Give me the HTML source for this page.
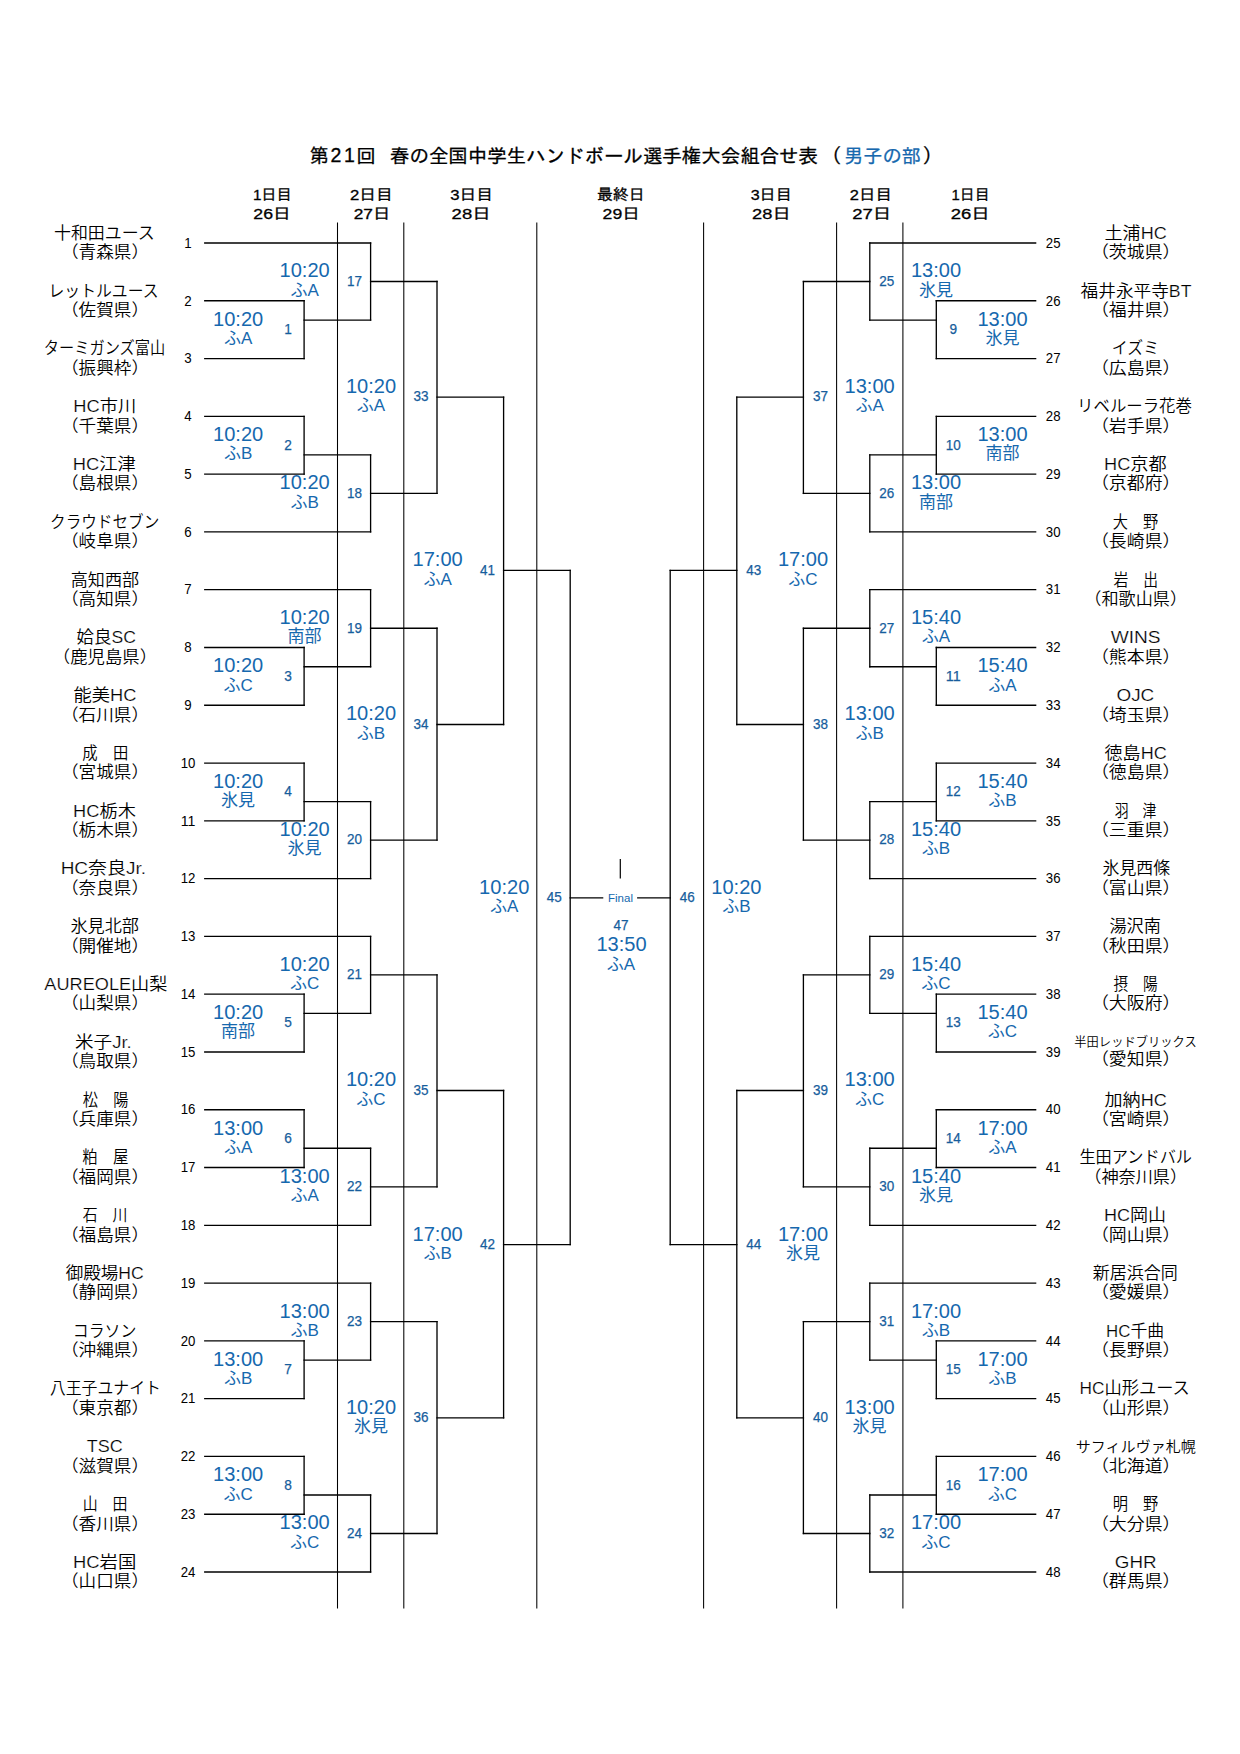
<!DOCTYPE html>
<html lang="ja"><head><meta charset="utf-8"><title>第21回 春の全国中学生ハンドボール選手権大会組合せ表（男子の部）</title>
<style>
html,body{margin:0;padding:0;background:#fff;}
svg{display:block}
text{text-anchor:middle}
.nm{font-family:"Liberation Sans","Noto Sans CJK JP",sans-serif;font-size:16.5px;font-weight:350;fill:#000}
.sm{font-size:12.6px}
.lt{stroke:#fff;stroke-width:0.22px}
.sm2{font-size:15px}
.tn{font-family:"Liberation Sans","IPAGothic",sans-serif;font-size:15.4px;fill:#000}
.mn{font-family:"Liberation Sans","Noto Sans CJK JP",sans-serif;font-size:15px;fill:#165D9C;stroke:#165D9C;stroke-width:0.25px}
.t1{font-family:"Liberation Sans","Noto Sans CJK JP",sans-serif;font-size:19.9px;fill:#1668AE}
.t2{font-family:"Liberation Sans","Noto Sans CJK JP",sans-serif;font-size:17px;fill:#1668AE}
.dh{font-family:"Liberation Sans","IPAGothic",sans-serif;font-size:15.5px;fill:#000;stroke:#000;stroke-width:0.3px}
.ti{font-family:"Liberation Sans","IPAGothic",sans-serif;font-size:19.5px;fill:#000;stroke:#000;stroke-width:0.3px;text-anchor:start}
.fn{font-family:"Liberation Sans","Noto Sans CJK JP",sans-serif;font-size:11.5px;fill:#1668AE}
</style></head>
<body>
<svg width="1240" height="1754" viewBox="0 0 1240 1754">
<rect width="1240" height="1754" fill="#fff"/>
<g stroke="#000" fill="none">
<path d="M204.76 243.00H370.60" stroke-width="1.33" stroke-linecap="square"/>
<path d="M204.76 300.78H304.10" stroke-width="1.33" stroke-linecap="square"/>
<path d="M204.76 358.57H304.10" stroke-width="1.33" stroke-linecap="square"/>
<path d="M204.76 416.35H304.10" stroke-width="1.33" stroke-linecap="square"/>
<path d="M204.76 474.13H304.10" stroke-width="1.33" stroke-linecap="square"/>
<path d="M204.76 531.91H370.60" stroke-width="1.33" stroke-linecap="square"/>
<path d="M204.76 589.70H370.60" stroke-width="1.33" stroke-linecap="square"/>
<path d="M204.76 647.48H304.10" stroke-width="1.33" stroke-linecap="square"/>
<path d="M204.76 705.26H304.10" stroke-width="1.33" stroke-linecap="square"/>
<path d="M204.76 763.05H304.10" stroke-width="1.33" stroke-linecap="square"/>
<path d="M204.76 820.83H304.10" stroke-width="1.33" stroke-linecap="square"/>
<path d="M204.76 878.61H370.60" stroke-width="1.33" stroke-linecap="square"/>
<path d="M204.76 936.40H370.60" stroke-width="1.33" stroke-linecap="square"/>
<path d="M204.76 994.18H304.10" stroke-width="1.33" stroke-linecap="square"/>
<path d="M204.76 1051.96H304.10" stroke-width="1.33" stroke-linecap="square"/>
<path d="M204.76 1109.74H304.10" stroke-width="1.33" stroke-linecap="square"/>
<path d="M204.76 1167.53H304.10" stroke-width="1.33" stroke-linecap="square"/>
<path d="M204.76 1225.31H370.60" stroke-width="1.33" stroke-linecap="square"/>
<path d="M204.76 1283.09H370.60" stroke-width="1.33" stroke-linecap="square"/>
<path d="M204.76 1340.88H304.10" stroke-width="1.33" stroke-linecap="square"/>
<path d="M204.76 1398.66H304.10" stroke-width="1.33" stroke-linecap="square"/>
<path d="M204.76 1456.44H304.10" stroke-width="1.33" stroke-linecap="square"/>
<path d="M204.76 1514.23H304.10" stroke-width="1.33" stroke-linecap="square"/>
<path d="M204.76 1572.01H370.60" stroke-width="1.33" stroke-linecap="square"/>
<path d="M304.10 300.78V358.57" stroke-width="1.33" stroke-linecap="square"/>
<path d="M304.10 320.04H370.60" stroke-width="1.33" stroke-linecap="square"/>
<path d="M304.10 416.35V474.13" stroke-width="1.33" stroke-linecap="square"/>
<path d="M304.10 454.87H370.60" stroke-width="1.33" stroke-linecap="square"/>
<path d="M304.10 647.48V705.26" stroke-width="1.33" stroke-linecap="square"/>
<path d="M304.10 666.74H370.60" stroke-width="1.33" stroke-linecap="square"/>
<path d="M304.10 763.05V820.83" stroke-width="1.33" stroke-linecap="square"/>
<path d="M304.10 801.57H370.60" stroke-width="1.33" stroke-linecap="square"/>
<path d="M304.10 994.18V1051.96" stroke-width="1.33" stroke-linecap="square"/>
<path d="M304.10 1013.44H370.60" stroke-width="1.33" stroke-linecap="square"/>
<path d="M304.10 1109.74V1167.53" stroke-width="1.33" stroke-linecap="square"/>
<path d="M304.10 1148.27H370.60" stroke-width="1.33" stroke-linecap="square"/>
<path d="M304.10 1340.88V1398.66" stroke-width="1.33" stroke-linecap="square"/>
<path d="M304.10 1360.14H370.60" stroke-width="1.33" stroke-linecap="square"/>
<path d="M304.10 1456.44V1514.23" stroke-width="1.33" stroke-linecap="square"/>
<path d="M304.10 1494.96H370.60" stroke-width="1.33" stroke-linecap="square"/>
<path d="M370.60 243.00V320.04" stroke-width="1.33" stroke-linecap="square"/>
<path d="M370.60 281.52H437.00" stroke-width="1.33" stroke-linecap="square"/>
<path d="M370.60 454.87V531.91" stroke-width="1.33" stroke-linecap="square"/>
<path d="M370.60 493.39H437.00" stroke-width="1.33" stroke-linecap="square"/>
<path d="M370.60 589.70V666.74" stroke-width="1.33" stroke-linecap="square"/>
<path d="M370.60 628.22H437.00" stroke-width="1.33" stroke-linecap="square"/>
<path d="M370.60 801.57V878.61" stroke-width="1.33" stroke-linecap="square"/>
<path d="M370.60 840.09H437.00" stroke-width="1.33" stroke-linecap="square"/>
<path d="M370.60 936.40V1013.44" stroke-width="1.33" stroke-linecap="square"/>
<path d="M370.60 974.92H437.00" stroke-width="1.33" stroke-linecap="square"/>
<path d="M370.60 1148.27V1225.31" stroke-width="1.33" stroke-linecap="square"/>
<path d="M370.60 1186.79H437.00" stroke-width="1.33" stroke-linecap="square"/>
<path d="M370.60 1283.09V1360.14" stroke-width="1.33" stroke-linecap="square"/>
<path d="M370.60 1321.62H437.00" stroke-width="1.33" stroke-linecap="square"/>
<path d="M370.60 1494.96V1572.01" stroke-width="1.33" stroke-linecap="square"/>
<path d="M370.60 1533.49H437.00" stroke-width="1.33" stroke-linecap="square"/>
<path d="M437.00 281.52V493.39" stroke-width="1.33" stroke-linecap="square"/>
<path d="M437.00 397.09H503.60" stroke-width="1.33" stroke-linecap="square"/>
<path d="M437.00 628.22V840.09" stroke-width="1.33" stroke-linecap="square"/>
<path d="M437.00 724.52H503.60" stroke-width="1.33" stroke-linecap="square"/>
<path d="M437.00 974.92V1186.79" stroke-width="1.33" stroke-linecap="square"/>
<path d="M437.00 1090.48H503.60" stroke-width="1.33" stroke-linecap="square"/>
<path d="M437.00 1321.62V1533.49" stroke-width="1.33" stroke-linecap="square"/>
<path d="M437.00 1417.92H503.60" stroke-width="1.33" stroke-linecap="square"/>
<path d="M503.60 397.09V724.52" stroke-width="1.33" stroke-linecap="square"/>
<path d="M503.60 570.44H570.20" stroke-width="1.33" stroke-linecap="square"/>
<path d="M503.60 1090.48V1417.92" stroke-width="1.33" stroke-linecap="square"/>
<path d="M503.60 1244.57H570.20" stroke-width="1.33" stroke-linecap="square"/>
<path d="M570.20 570.44V1244.57" stroke-width="1.33" stroke-linecap="square"/>
<path d="M570.20 897.87H602.63" stroke-width="1.33" stroke-linecap="square"/>
<path d="M1035.64 243.00H869.80" stroke-width="1.33" stroke-linecap="square"/>
<path d="M1035.64 300.78H936.30" stroke-width="1.33" stroke-linecap="square"/>
<path d="M1035.64 358.57H936.30" stroke-width="1.33" stroke-linecap="square"/>
<path d="M1035.64 416.35H936.30" stroke-width="1.33" stroke-linecap="square"/>
<path d="M1035.64 474.13H936.30" stroke-width="1.33" stroke-linecap="square"/>
<path d="M1035.64 531.91H869.80" stroke-width="1.33" stroke-linecap="square"/>
<path d="M1035.64 589.70H869.80" stroke-width="1.33" stroke-linecap="square"/>
<path d="M1035.64 647.48H936.30" stroke-width="1.33" stroke-linecap="square"/>
<path d="M1035.64 705.26H936.30" stroke-width="1.33" stroke-linecap="square"/>
<path d="M1035.64 763.05H936.30" stroke-width="1.33" stroke-linecap="square"/>
<path d="M1035.64 820.83H936.30" stroke-width="1.33" stroke-linecap="square"/>
<path d="M1035.64 878.61H869.80" stroke-width="1.33" stroke-linecap="square"/>
<path d="M1035.64 936.40H869.80" stroke-width="1.33" stroke-linecap="square"/>
<path d="M1035.64 994.18H936.30" stroke-width="1.33" stroke-linecap="square"/>
<path d="M1035.64 1051.96H936.30" stroke-width="1.33" stroke-linecap="square"/>
<path d="M1035.64 1109.74H936.30" stroke-width="1.33" stroke-linecap="square"/>
<path d="M1035.64 1167.53H936.30" stroke-width="1.33" stroke-linecap="square"/>
<path d="M1035.64 1225.31H869.80" stroke-width="1.33" stroke-linecap="square"/>
<path d="M1035.64 1283.09H869.80" stroke-width="1.33" stroke-linecap="square"/>
<path d="M1035.64 1340.88H936.30" stroke-width="1.33" stroke-linecap="square"/>
<path d="M1035.64 1398.66H936.30" stroke-width="1.33" stroke-linecap="square"/>
<path d="M1035.64 1456.44H936.30" stroke-width="1.33" stroke-linecap="square"/>
<path d="M1035.64 1514.23H936.30" stroke-width="1.33" stroke-linecap="square"/>
<path d="M1035.64 1572.01H869.80" stroke-width="1.33" stroke-linecap="square"/>
<path d="M936.30 300.78V358.57" stroke-width="1.33" stroke-linecap="square"/>
<path d="M936.30 320.04H869.80" stroke-width="1.33" stroke-linecap="square"/>
<path d="M936.30 416.35V474.13" stroke-width="1.33" stroke-linecap="square"/>
<path d="M936.30 454.87H869.80" stroke-width="1.33" stroke-linecap="square"/>
<path d="M936.30 647.48V705.26" stroke-width="1.33" stroke-linecap="square"/>
<path d="M936.30 666.74H869.80" stroke-width="1.33" stroke-linecap="square"/>
<path d="M936.30 763.05V820.83" stroke-width="1.33" stroke-linecap="square"/>
<path d="M936.30 801.57H869.80" stroke-width="1.33" stroke-linecap="square"/>
<path d="M936.30 994.18V1051.96" stroke-width="1.33" stroke-linecap="square"/>
<path d="M936.30 1013.44H869.80" stroke-width="1.33" stroke-linecap="square"/>
<path d="M936.30 1109.74V1167.53" stroke-width="1.33" stroke-linecap="square"/>
<path d="M936.30 1148.27H869.80" stroke-width="1.33" stroke-linecap="square"/>
<path d="M936.30 1340.88V1398.66" stroke-width="1.33" stroke-linecap="square"/>
<path d="M936.30 1360.14H869.80" stroke-width="1.33" stroke-linecap="square"/>
<path d="M936.30 1456.44V1514.23" stroke-width="1.33" stroke-linecap="square"/>
<path d="M936.30 1494.96H869.80" stroke-width="1.33" stroke-linecap="square"/>
<path d="M869.80 243.00V320.04" stroke-width="1.33" stroke-linecap="square"/>
<path d="M869.80 281.52H803.40" stroke-width="1.33" stroke-linecap="square"/>
<path d="M869.80 454.87V531.91" stroke-width="1.33" stroke-linecap="square"/>
<path d="M869.80 493.39H803.40" stroke-width="1.33" stroke-linecap="square"/>
<path d="M869.80 589.70V666.74" stroke-width="1.33" stroke-linecap="square"/>
<path d="M869.80 628.22H803.40" stroke-width="1.33" stroke-linecap="square"/>
<path d="M869.80 801.57V878.61" stroke-width="1.33" stroke-linecap="square"/>
<path d="M869.80 840.09H803.40" stroke-width="1.33" stroke-linecap="square"/>
<path d="M869.80 936.40V1013.44" stroke-width="1.33" stroke-linecap="square"/>
<path d="M869.80 974.92H803.40" stroke-width="1.33" stroke-linecap="square"/>
<path d="M869.80 1148.27V1225.31" stroke-width="1.33" stroke-linecap="square"/>
<path d="M869.80 1186.79H803.40" stroke-width="1.33" stroke-linecap="square"/>
<path d="M869.80 1283.09V1360.14" stroke-width="1.33" stroke-linecap="square"/>
<path d="M869.80 1321.62H803.40" stroke-width="1.33" stroke-linecap="square"/>
<path d="M869.80 1494.96V1572.01" stroke-width="1.33" stroke-linecap="square"/>
<path d="M869.80 1533.49H803.40" stroke-width="1.33" stroke-linecap="square"/>
<path d="M803.40 281.52V493.39" stroke-width="1.33" stroke-linecap="square"/>
<path d="M803.40 397.09H736.80" stroke-width="1.33" stroke-linecap="square"/>
<path d="M803.40 628.22V840.09" stroke-width="1.33" stroke-linecap="square"/>
<path d="M803.40 724.52H736.80" stroke-width="1.33" stroke-linecap="square"/>
<path d="M803.40 974.92V1186.79" stroke-width="1.33" stroke-linecap="square"/>
<path d="M803.40 1090.48H736.80" stroke-width="1.33" stroke-linecap="square"/>
<path d="M803.40 1321.62V1533.49" stroke-width="1.33" stroke-linecap="square"/>
<path d="M803.40 1417.92H736.80" stroke-width="1.33" stroke-linecap="square"/>
<path d="M736.80 397.09V724.52" stroke-width="1.33" stroke-linecap="square"/>
<path d="M736.80 570.44H670.20" stroke-width="1.33" stroke-linecap="square"/>
<path d="M736.80 1090.48V1417.92" stroke-width="1.33" stroke-linecap="square"/>
<path d="M736.80 1244.57H670.20" stroke-width="1.33" stroke-linecap="square"/>
<path d="M670.20 570.44V1244.57" stroke-width="1.33" stroke-linecap="square"/>
<path d="M670.20 897.87H637.77" stroke-width="1.33" stroke-linecap="square"/>
<path d="M337.50 222.60V1608.60" stroke-width="1.05" stroke-linecap="butt"/>
<path d="M902.90 222.60V1608.60" stroke-width="1.05" stroke-linecap="butt"/>
<path d="M403.80 222.60V1608.60" stroke-width="1.05" stroke-linecap="butt"/>
<path d="M836.60 222.60V1608.60" stroke-width="1.05" stroke-linecap="butt"/>
<path d="M536.80 222.60V1608.60" stroke-width="1.05" stroke-linecap="butt"/>
<path d="M703.60 222.60V1608.60" stroke-width="1.05" stroke-linecap="butt"/>
<path d="M620.30 858.90V878.50" stroke-width="1.2" stroke-linecap="butt"/>
</g>
<text class="ti" x="309.6" y="163">第</text><text class="ti" x="330.4" y="162">2</text><text class="ti" x="344" y="162">1</text><text class="ti" x="356.2" y="163">回</text><text class="ti" x="390" y="163" textLength="428" lengthAdjust="spacingAndGlyphs">春の全国中学生ハンドボール選手権大会組合せ表</text><text class="ti" x="822" y="163">（</text><text class="ti" x="844" y="163" textLength="77" lengthAdjust="spacingAndGlyphs" style="fill:#1668AE;stroke:#1668AE">男子の部</text><text class="ti" x="922.5" y="163">）</text>
<text id="d1_1" class="dh" x="272.38" y="199.60" textLength="38.96" lengthAdjust="spacingAndGlyphs">1日目</text>
<text id="d2_1" class="dh" x="272.09" y="218.50" textLength="37.44" lengthAdjust="spacingAndGlyphs">26日</text>
<text id="d1_2" class="dh" x="371.36" y="199.60" textLength="42.71" lengthAdjust="spacingAndGlyphs">2日目</text>
<text id="d2_2" class="dh" x="371.94" y="218.50" textLength="36.57" lengthAdjust="spacingAndGlyphs">27日</text>
<text id="d1_3" class="dh" x="471.62" y="199.60" textLength="42.73" lengthAdjust="spacingAndGlyphs">3日目</text>
<text id="d2_3" class="dh" x="471.17" y="218.50" textLength="39.07" lengthAdjust="spacingAndGlyphs">28日</text>
<text id="d1_4" class="dh" x="620.72" y="199.60" textLength="47.58" lengthAdjust="spacingAndGlyphs">最終日</text>
<text id="d2_4" class="dh" x="621.21" y="218.50" textLength="37.23" lengthAdjust="spacingAndGlyphs">29日</text>
<text id="d1_5" class="dh" x="771.24" y="199.60" textLength="41.12" lengthAdjust="spacingAndGlyphs">3日目</text>
<text id="d2_5" class="dh" x="771.40" y="218.50" textLength="38.62" lengthAdjust="spacingAndGlyphs">28日</text>
<text id="d1_6" class="dh" x="870.87" y="199.60" textLength="41.98" lengthAdjust="spacingAndGlyphs">2日目</text>
<text id="d2_6" class="dh" x="871.81" y="218.50" textLength="39.07" lengthAdjust="spacingAndGlyphs">27日</text>
<text id="d1_7" class="dh" x="970.58" y="199.60" textLength="38.08" lengthAdjust="spacingAndGlyphs">1日目</text>
<text id="d2_7" class="dh" x="970.29" y="218.50" textLength="39.07" lengthAdjust="spacingAndGlyphs">26日</text>
<text id="n1_1" class="nm" x="104.41" y="238.80" textLength="100.87" lengthAdjust="spacingAndGlyphs">十和田ユース</text>
<text id="n2_1" class="nm" x="104.99" y="258.30" textLength="88.00" lengthAdjust="spacingAndGlyphs">（青森県）</text>
<text class="tn" x="188.0" y="247.7" textLength="7.4" lengthAdjust="spacingAndGlyphs">1</text>
<text id="n1_2" class="nm" x="103.55" y="296.58" textLength="110.10" lengthAdjust="spacingAndGlyphs">レットルユース</text>
<text id="n2_2" class="nm" x="104.99" y="316.08" textLength="88.00" lengthAdjust="spacingAndGlyphs">（佐賀県）</text>
<text class="tn" x="188.0" y="305.5" textLength="7.4" lengthAdjust="spacingAndGlyphs">2</text>
<text id="n1_3" class="nm" x="104.52" y="354.37" textLength="121.39" lengthAdjust="spacingAndGlyphs">ターミガンズ富山</text>
<text id="n2_3" class="nm" x="104.99" y="373.87" textLength="88.00" lengthAdjust="spacingAndGlyphs">（振興枠）</text>
<text class="tn" x="188.0" y="363.3" textLength="7.4" lengthAdjust="spacingAndGlyphs">3</text>
<text id="n1_4" class="nm" x="104.78" y="412.15" textLength="62.95" lengthAdjust="spacingAndGlyphs"><tspan class="lt">HC</tspan>市川</text>
<text id="n2_4" class="nm" x="104.99" y="431.65" textLength="88.00" lengthAdjust="spacingAndGlyphs">（千葉県）</text>
<text class="tn" x="188.0" y="421.0" textLength="7.4" lengthAdjust="spacingAndGlyphs">4</text>
<text id="n1_5" class="nm" x="104.37" y="469.93" textLength="63.15" lengthAdjust="spacingAndGlyphs"><tspan class="lt">HC</tspan>江津</text>
<text id="n2_5" class="nm" x="104.99" y="489.43" textLength="88.00" lengthAdjust="spacingAndGlyphs">（島根県）</text>
<text class="tn" x="188.0" y="478.8" textLength="7.4" lengthAdjust="spacingAndGlyphs">5</text>
<text id="n1_6" class="nm" x="104.66" y="527.71" textLength="109.21" lengthAdjust="spacingAndGlyphs">クラウドセブン</text>
<text id="n2_6" class="nm" x="104.99" y="547.21" textLength="88.00" lengthAdjust="spacingAndGlyphs">（岐阜県）</text>
<text class="tn" x="188.0" y="536.6" textLength="7.4" lengthAdjust="spacingAndGlyphs">6</text>
<text id="n1_7" class="nm" x="104.94" y="585.50" textLength="68.37" lengthAdjust="spacingAndGlyphs">高知西部</text>
<text id="n2_7" class="nm" x="104.99" y="605.00" textLength="88.00" lengthAdjust="spacingAndGlyphs">（高知県）</text>
<text class="tn" x="188.0" y="594.4" textLength="7.4" lengthAdjust="spacingAndGlyphs">7</text>
<text id="n1_8" class="nm" x="106.17" y="643.28" textLength="59.48" lengthAdjust="spacingAndGlyphs">姶良<tspan class="lt">SC</tspan></text>
<text id="n2_8" class="nm" x="104.99" y="662.78" textLength="104.21" lengthAdjust="spacingAndGlyphs">（鹿児島県）</text>
<text class="tn" x="188.0" y="652.2" textLength="7.4" lengthAdjust="spacingAndGlyphs">8</text>
<text id="n1_9" class="nm" x="104.93" y="701.06" textLength="62.84" lengthAdjust="spacingAndGlyphs">能美<tspan class="lt">HC</tspan></text>
<text id="n2_9" class="nm" x="104.99" y="720.56" textLength="88.00" lengthAdjust="spacingAndGlyphs">（石川県）</text>
<text class="tn" x="188.0" y="710.0" textLength="7.4" lengthAdjust="spacingAndGlyphs">9</text>
<text id="n1_10" class="nm" x="105.23" y="758.85" textLength="46.02" lengthAdjust="spacingAndGlyphs">成　田</text>
<text id="n2_10" class="nm" x="104.99" y="778.35" textLength="88.00" lengthAdjust="spacingAndGlyphs">（宮城県）</text>
<text class="tn" x="188.0" y="767.7" textLength="14.7" lengthAdjust="spacingAndGlyphs">10</text>
<text id="n1_11" class="nm" x="104.48" y="816.63" textLength="62.73" lengthAdjust="spacingAndGlyphs"><tspan class="lt">HC</tspan>栃木</text>
<text id="n2_11" class="nm" x="104.99" y="836.13" textLength="88.00" lengthAdjust="spacingAndGlyphs">（栃木県）</text>
<text class="tn" x="188.0" y="825.5" textLength="14.7" lengthAdjust="spacingAndGlyphs">11</text>
<text id="n1_12" class="nm" x="103.40" y="874.41" textLength="85.46" lengthAdjust="spacingAndGlyphs"><tspan class="lt">HC</tspan>奈良<tspan class="lt">Jr.</tspan></text>
<text id="n2_12" class="nm" x="104.99" y="893.91" textLength="88.00" lengthAdjust="spacingAndGlyphs">（奈良県）</text>
<text class="tn" x="188.0" y="883.3" textLength="14.7" lengthAdjust="spacingAndGlyphs">12</text>
<text id="n1_13" class="nm" x="104.74" y="932.20" textLength="68.58" lengthAdjust="spacingAndGlyphs">氷見北部</text>
<text id="n2_13" class="nm" x="104.99" y="951.70" textLength="88.00" lengthAdjust="spacingAndGlyphs">（開催地）</text>
<text class="tn" x="188.0" y="941.1" textLength="14.7" lengthAdjust="spacingAndGlyphs">13</text>
<text id="n1_14" class="nm" x="105.88" y="989.98" textLength="123.05" lengthAdjust="spacingAndGlyphs"><tspan class="lt">AUREOLE</tspan>山梨</text>
<text id="n2_14" class="nm" x="104.99" y="1009.48" textLength="88.00" lengthAdjust="spacingAndGlyphs">（山梨県）</text>
<text class="tn" x="188.0" y="998.9" textLength="14.7" lengthAdjust="spacingAndGlyphs">14</text>
<text id="n1_15" class="nm" x="103.39" y="1047.76" textLength="56.70" lengthAdjust="spacingAndGlyphs">米子<tspan class="lt">Jr.</tspan></text>
<text id="n2_15" class="nm" x="104.99" y="1067.26" textLength="88.00" lengthAdjust="spacingAndGlyphs">（鳥取県）</text>
<text class="tn" x="188.0" y="1056.7" textLength="14.7" lengthAdjust="spacingAndGlyphs">15</text>
<text id="n1_16" class="nm" x="105.67" y="1105.54" textLength="45.68" lengthAdjust="spacingAndGlyphs">松　陽</text>
<text id="n2_16" class="nm" x="104.99" y="1125.04" textLength="88.00" lengthAdjust="spacingAndGlyphs">（兵庫県）</text>
<text class="tn" x="188.0" y="1114.4" textLength="14.7" lengthAdjust="spacingAndGlyphs">16</text>
<text id="n1_17" class="nm" x="105.36" y="1163.33" textLength="46.30" lengthAdjust="spacingAndGlyphs">粕　屋</text>
<text id="n2_17" class="nm" x="104.99" y="1182.83" textLength="88.00" lengthAdjust="spacingAndGlyphs">（福岡県）</text>
<text class="tn" x="188.0" y="1172.2" textLength="14.7" lengthAdjust="spacingAndGlyphs">17</text>
<text id="n1_18" class="nm" x="105.17" y="1221.11" textLength="44.66" lengthAdjust="spacingAndGlyphs">石　川</text>
<text id="n2_18" class="nm" x="104.99" y="1240.61" textLength="88.00" lengthAdjust="spacingAndGlyphs">（福島県）</text>
<text class="tn" x="188.0" y="1230.0" textLength="14.7" lengthAdjust="spacingAndGlyphs">18</text>
<text id="n1_19" class="nm" x="104.69" y="1278.89" textLength="78.03" lengthAdjust="spacingAndGlyphs">御殿場<tspan class="lt">HC</tspan></text>
<text id="n2_19" class="nm" x="104.99" y="1298.39" textLength="88.00" lengthAdjust="spacingAndGlyphs">（静岡県）</text>
<text class="tn" x="188.0" y="1287.8" textLength="14.7" lengthAdjust="spacingAndGlyphs">19</text>
<text id="n1_20" class="nm" x="104.58" y="1336.68" textLength="63.59" lengthAdjust="spacingAndGlyphs">コラソン</text>
<text id="n2_20" class="nm" x="104.99" y="1356.18" textLength="88.00" lengthAdjust="spacingAndGlyphs">（沖縄県）</text>
<text class="tn" x="188.0" y="1345.6" textLength="14.7" lengthAdjust="spacingAndGlyphs">20</text>
<text id="n1_21" class="nm" x="105.37" y="1394.46" textLength="110.96" lengthAdjust="spacingAndGlyphs">八王子ユナイト</text>
<text id="n2_21" class="nm" x="104.99" y="1413.96" textLength="88.00" lengthAdjust="spacingAndGlyphs">（東京都）</text>
<text class="tn" x="188.0" y="1403.4" textLength="14.7" lengthAdjust="spacingAndGlyphs">21</text>
<text id="n1_22" class="nm" x="104.68" y="1452.24" textLength="35.89" lengthAdjust="spacingAndGlyphs"><tspan class="lt">TSC</tspan></text>
<text id="n2_22" class="nm" x="104.99" y="1471.74" textLength="88.00" lengthAdjust="spacingAndGlyphs">（滋賀県）</text>
<text class="tn" x="188.0" y="1461.1" textLength="14.7" lengthAdjust="spacingAndGlyphs">22</text>
<text id="n1_23" class="nm" x="105.07" y="1510.03" textLength="44.87" lengthAdjust="spacingAndGlyphs">山　田</text>
<text id="n2_23" class="nm" x="104.99" y="1529.53" textLength="88.00" lengthAdjust="spacingAndGlyphs">（香川県）</text>
<text class="tn" x="188.0" y="1518.9" textLength="14.7" lengthAdjust="spacingAndGlyphs">23</text>
<text id="n1_24" class="nm" x="104.73" y="1567.81" textLength="63.26" lengthAdjust="spacingAndGlyphs"><tspan class="lt">HC</tspan>岩国</text>
<text id="n2_24" class="nm" x="104.99" y="1587.31" textLength="88.00" lengthAdjust="spacingAndGlyphs">（山口県）</text>
<text class="tn" x="188.0" y="1576.7" textLength="14.7" lengthAdjust="spacingAndGlyphs">24</text>
<text class="mn" x="288.1" y="334.0" textLength="7.6" lengthAdjust="spacingAndGlyphs">1</text>
<text class="t1" x="238.1" y="325.6" textLength="50.2" lengthAdjust="spacingAndGlyphs">10:20</text>
<text class="t2" x="238.1" y="343.9">ふA</text>
<text class="mn" x="288.1" y="449.5" textLength="7.6" lengthAdjust="spacingAndGlyphs">2</text>
<text class="t1" x="238.1" y="441.1" textLength="50.2" lengthAdjust="spacingAndGlyphs">10:20</text>
<text class="t2" x="238.1" y="459.4">ふB</text>
<text class="mn" x="288.1" y="680.7" textLength="7.6" lengthAdjust="spacingAndGlyphs">3</text>
<text class="t1" x="238.1" y="672.3" textLength="50.2" lengthAdjust="spacingAndGlyphs">10:20</text>
<text class="t2" x="238.1" y="690.6">ふC</text>
<text class="mn" x="288.1" y="796.2" textLength="7.6" lengthAdjust="spacingAndGlyphs">4</text>
<text class="t1" x="238.1" y="787.8" textLength="50.2" lengthAdjust="spacingAndGlyphs">10:20</text>
<text class="t2" x="238.1" y="806.1">氷見</text>
<text class="mn" x="288.1" y="1027.4" textLength="7.6" lengthAdjust="spacingAndGlyphs">5</text>
<text class="t1" x="238.1" y="1019.0" textLength="50.2" lengthAdjust="spacingAndGlyphs">10:20</text>
<text class="t2" x="238.1" y="1037.3">南部</text>
<text class="mn" x="288.1" y="1142.9" textLength="7.6" lengthAdjust="spacingAndGlyphs">6</text>
<text class="t1" x="238.1" y="1134.5" textLength="50.2" lengthAdjust="spacingAndGlyphs">13:00</text>
<text class="t2" x="238.1" y="1152.8">ふA</text>
<text class="mn" x="288.1" y="1374.1" textLength="7.6" lengthAdjust="spacingAndGlyphs">7</text>
<text class="t1" x="238.1" y="1365.7" textLength="50.2" lengthAdjust="spacingAndGlyphs">13:00</text>
<text class="t2" x="238.1" y="1384.0">ふB</text>
<text class="mn" x="288.1" y="1489.6" textLength="7.6" lengthAdjust="spacingAndGlyphs">8</text>
<text class="t1" x="238.1" y="1481.2" textLength="50.2" lengthAdjust="spacingAndGlyphs">13:00</text>
<text class="t2" x="238.1" y="1499.5">ふC</text>
<text class="mn" x="354.6" y="285.8" textLength="15.0" lengthAdjust="spacingAndGlyphs">17</text>
<text class="t1" x="304.6" y="277.4" textLength="50.2" lengthAdjust="spacingAndGlyphs">10:20</text>
<text class="t2" x="304.6" y="295.7">ふA</text>
<text class="mn" x="354.6" y="497.7" textLength="15.0" lengthAdjust="spacingAndGlyphs">18</text>
<text class="t1" x="304.6" y="489.3" textLength="50.2" lengthAdjust="spacingAndGlyphs">10:20</text>
<text class="t2" x="304.6" y="507.6">ふB</text>
<text class="mn" x="354.6" y="632.5" textLength="15.0" lengthAdjust="spacingAndGlyphs">19</text>
<text class="t1" x="304.6" y="624.1" textLength="50.2" lengthAdjust="spacingAndGlyphs">10:20</text>
<text class="t2" x="304.6" y="642.4">南部</text>
<text class="mn" x="354.6" y="844.4" textLength="15.0" lengthAdjust="spacingAndGlyphs">20</text>
<text class="t1" x="304.6" y="836.0" textLength="50.2" lengthAdjust="spacingAndGlyphs">10:20</text>
<text class="t2" x="304.6" y="854.3">氷見</text>
<text class="mn" x="354.6" y="979.2" textLength="15.0" lengthAdjust="spacingAndGlyphs">21</text>
<text class="t1" x="304.6" y="970.8" textLength="50.2" lengthAdjust="spacingAndGlyphs">10:20</text>
<text class="t2" x="304.6" y="989.1">ふC</text>
<text class="mn" x="354.6" y="1191.1" textLength="15.0" lengthAdjust="spacingAndGlyphs">22</text>
<text class="t1" x="304.6" y="1182.7" textLength="50.2" lengthAdjust="spacingAndGlyphs">13:00</text>
<text class="t2" x="304.6" y="1201.0">ふA</text>
<text class="mn" x="354.6" y="1325.9" textLength="15.0" lengthAdjust="spacingAndGlyphs">23</text>
<text class="t1" x="304.6" y="1317.5" textLength="50.2" lengthAdjust="spacingAndGlyphs">13:00</text>
<text class="t2" x="304.6" y="1335.8">ふB</text>
<text class="mn" x="354.6" y="1537.8" textLength="15.0" lengthAdjust="spacingAndGlyphs">24</text>
<text class="t1" x="304.6" y="1529.4" textLength="50.2" lengthAdjust="spacingAndGlyphs">13:00</text>
<text class="t2" x="304.6" y="1547.7">ふC</text>
<text class="mn" x="421.0" y="401.4" textLength="15.0" lengthAdjust="spacingAndGlyphs">33</text>
<text class="t1" x="371.0" y="393.0" textLength="50.2" lengthAdjust="spacingAndGlyphs">10:20</text>
<text class="t2" x="371.0" y="411.3">ふA</text>
<text class="mn" x="421.0" y="728.8" textLength="15.0" lengthAdjust="spacingAndGlyphs">34</text>
<text class="t1" x="371.0" y="720.4" textLength="50.2" lengthAdjust="spacingAndGlyphs">10:20</text>
<text class="t2" x="371.0" y="738.7">ふB</text>
<text class="mn" x="421.0" y="1094.8" textLength="15.0" lengthAdjust="spacingAndGlyphs">35</text>
<text class="t1" x="371.0" y="1086.4" textLength="50.2" lengthAdjust="spacingAndGlyphs">10:20</text>
<text class="t2" x="371.0" y="1104.7">ふC</text>
<text class="mn" x="421.0" y="1422.2" textLength="15.0" lengthAdjust="spacingAndGlyphs">36</text>
<text class="t1" x="371.0" y="1413.8" textLength="50.2" lengthAdjust="spacingAndGlyphs">10:20</text>
<text class="t2" x="371.0" y="1432.1">氷見</text>
<text class="mn" x="487.6" y="574.7" textLength="15.0" lengthAdjust="spacingAndGlyphs">41</text>
<text class="t1" x="437.6" y="566.3" textLength="50.2" lengthAdjust="spacingAndGlyphs">17:00</text>
<text class="t2" x="437.6" y="584.6">ふA</text>
<text class="mn" x="487.6" y="1248.9" textLength="15.0" lengthAdjust="spacingAndGlyphs">42</text>
<text class="t1" x="437.6" y="1240.5" textLength="50.2" lengthAdjust="spacingAndGlyphs">17:00</text>
<text class="t2" x="437.6" y="1258.8">ふB</text>
<text class="mn" x="554.2" y="902.2" textLength="15.0" lengthAdjust="spacingAndGlyphs">45</text>
<text class="t1" x="504.2" y="893.8" textLength="50.2" lengthAdjust="spacingAndGlyphs">10:20</text>
<text class="t2" x="504.2" y="912.1">ふA</text>
<text id="n1_25" class="nm" x="1135.66" y="238.80" textLength="62.11" lengthAdjust="spacingAndGlyphs">土浦<tspan class="lt">HC</tspan></text>
<text id="n2_25" class="nm" x="1135.71" y="258.30" textLength="89.49" lengthAdjust="spacingAndGlyphs">（茨城県）</text>
<text class="tn" x="1053.2" y="247.7" textLength="14.7" lengthAdjust="spacingAndGlyphs">25</text>
<text id="n1_26" class="nm" x="1136.01" y="296.58" textLength="110.84" lengthAdjust="spacingAndGlyphs">福井永平寺<tspan class="lt">BT</tspan></text>
<text id="n2_26" class="nm" x="1135.71" y="316.08" textLength="89.49" lengthAdjust="spacingAndGlyphs">（福井県）</text>
<text class="tn" x="1053.2" y="305.5" textLength="14.7" lengthAdjust="spacingAndGlyphs">26</text>
<text id="n1_27" class="nm" x="1135.48" y="354.37" textLength="47.23" lengthAdjust="spacingAndGlyphs">イズミ</text>
<text id="n2_27" class="nm" x="1135.71" y="373.87" textLength="89.49" lengthAdjust="spacingAndGlyphs">（広島県）</text>
<text class="tn" x="1053.2" y="363.3" textLength="14.7" lengthAdjust="spacingAndGlyphs">27</text>
<text id="n1_28" class="nm" x="1134.51" y="412.15" textLength="114.88" lengthAdjust="spacingAndGlyphs">リベルーラ花巻</text>
<text id="n2_28" class="nm" x="1135.71" y="431.65" textLength="89.49" lengthAdjust="spacingAndGlyphs">（岩手県）</text>
<text class="tn" x="1053.2" y="421.0" textLength="14.7" lengthAdjust="spacingAndGlyphs">28</text>
<text id="n1_29" class="nm" x="1135.41" y="469.93" textLength="62.63" lengthAdjust="spacingAndGlyphs"><tspan class="lt">HC</tspan>京都</text>
<text id="n2_29" class="nm" x="1135.71" y="489.43" textLength="89.49" lengthAdjust="spacingAndGlyphs">（京都府）</text>
<text class="tn" x="1053.2" y="478.8" textLength="14.7" lengthAdjust="spacingAndGlyphs">29</text>
<text id="n1_30" class="nm" x="1135.48" y="527.71" textLength="45.68" lengthAdjust="spacingAndGlyphs">大　野</text>
<text id="n2_30" class="nm" x="1135.71" y="547.21" textLength="89.49" lengthAdjust="spacingAndGlyphs">（長崎県）</text>
<text class="tn" x="1053.2" y="536.6" textLength="14.7" lengthAdjust="spacingAndGlyphs">30</text>
<text id="n1_31" class="nm" x="1135.79" y="585.50" textLength="44.45" lengthAdjust="spacingAndGlyphs">岩　出</text>
<text id="n2_31" class="nm" x="1135.70" y="605.00" textLength="102.86" lengthAdjust="spacingAndGlyphs">（和歌山県）</text>
<text class="tn" x="1053.2" y="594.4" textLength="14.7" lengthAdjust="spacingAndGlyphs">31</text>
<text id="n1_32" class="nm" x="1135.65" y="643.28" textLength="49.97" lengthAdjust="spacingAndGlyphs"><tspan class="lt">WINS</tspan></text>
<text id="n2_32" class="nm" x="1135.71" y="662.78" textLength="89.49" lengthAdjust="spacingAndGlyphs">（熊本県）</text>
<text class="tn" x="1053.2" y="652.2" textLength="14.7" lengthAdjust="spacingAndGlyphs">32</text>
<text id="n1_33" class="nm" x="1135.36" y="701.06" textLength="37.79" lengthAdjust="spacingAndGlyphs"><tspan class="lt">OJC</tspan></text>
<text id="n2_33" class="nm" x="1135.71" y="720.56" textLength="89.49" lengthAdjust="spacingAndGlyphs">（埼玉県）</text>
<text class="tn" x="1053.2" y="710.0" textLength="14.7" lengthAdjust="spacingAndGlyphs">33</text>
<text id="n1_34" class="nm" x="1135.66" y="758.85" textLength="62.11" lengthAdjust="spacingAndGlyphs">徳島<tspan class="lt">HC</tspan></text>
<text id="n2_34" class="nm" x="1135.71" y="778.35" textLength="89.49" lengthAdjust="spacingAndGlyphs">（徳島県）</text>
<text class="tn" x="1053.2" y="767.7" textLength="14.7" lengthAdjust="spacingAndGlyphs">34</text>
<text id="n1_35" class="nm" x="1135.51" y="816.63" textLength="41.77" lengthAdjust="spacingAndGlyphs">羽　津</text>
<text id="n2_35" class="nm" x="1135.71" y="836.13" textLength="89.49" lengthAdjust="spacingAndGlyphs">（三重県）</text>
<text class="tn" x="1053.2" y="825.5" textLength="14.7" lengthAdjust="spacingAndGlyphs">35</text>
<text id="n1_36" class="nm" x="1136.30" y="874.41" textLength="67.42" lengthAdjust="spacingAndGlyphs">氷見西條</text>
<text id="n2_36" class="nm" x="1135.71" y="893.91" textLength="89.49" lengthAdjust="spacingAndGlyphs">（富山県）</text>
<text class="tn" x="1053.2" y="883.3" textLength="14.7" lengthAdjust="spacingAndGlyphs">36</text>
<text id="n1_37" class="nm" x="1135.18" y="932.20" textLength="51.56" lengthAdjust="spacingAndGlyphs">湯沢南</text>
<text id="n2_37" class="nm" x="1135.71" y="951.70" textLength="89.49" lengthAdjust="spacingAndGlyphs">（秋田県）</text>
<text class="tn" x="1053.2" y="941.1" textLength="14.7" lengthAdjust="spacingAndGlyphs">37</text>
<text id="n1_38" class="nm" x="1135.64" y="989.98" textLength="44.15" lengthAdjust="spacingAndGlyphs">摂　陽</text>
<text id="n2_38" class="nm" x="1135.71" y="1009.48" textLength="89.49" lengthAdjust="spacingAndGlyphs">（大阪府）</text>
<text class="tn" x="1053.2" y="998.9" textLength="14.7" lengthAdjust="spacingAndGlyphs">38</text>
<text id="n1_39" class="nm sm" x="1135.53" y="1046.36" textLength="122.42" lengthAdjust="spacingAndGlyphs">半田レッドブリックス</text>
<text id="n2_39" class="nm" x="1135.71" y="1065.26" textLength="89.49" lengthAdjust="spacingAndGlyphs">（愛知県）</text>
<text class="tn" x="1053.2" y="1056.7" textLength="14.7" lengthAdjust="spacingAndGlyphs">39</text>
<text id="n1_40" class="nm" x="1135.66" y="1105.54" textLength="62.11" lengthAdjust="spacingAndGlyphs">加納<tspan class="lt">HC</tspan></text>
<text id="n2_40" class="nm" x="1135.71" y="1125.04" textLength="89.49" lengthAdjust="spacingAndGlyphs">（宮崎県）</text>
<text class="tn" x="1053.2" y="1114.4" textLength="14.7" lengthAdjust="spacingAndGlyphs">40</text>
<text id="n1_41" class="nm" x="1135.70" y="1163.33" textLength="112.61" lengthAdjust="spacingAndGlyphs">生田アンドバル</text>
<text id="n2_41" class="nm" x="1135.70" y="1182.83" textLength="102.86" lengthAdjust="spacingAndGlyphs">（神奈川県）</text>
<text class="tn" x="1053.2" y="1172.2" textLength="14.7" lengthAdjust="spacingAndGlyphs">41</text>
<text id="n1_42" class="nm" x="1135.11" y="1221.11" textLength="62.00" lengthAdjust="spacingAndGlyphs"><tspan class="lt">HC</tspan>岡山</text>
<text id="n2_42" class="nm" x="1135.71" y="1240.61" textLength="89.49" lengthAdjust="spacingAndGlyphs">（岡山県）</text>
<text class="tn" x="1053.2" y="1230.0" textLength="14.7" lengthAdjust="spacingAndGlyphs">42</text>
<text id="n1_43" class="nm" x="1135.35" y="1278.89" textLength="85.05" lengthAdjust="spacingAndGlyphs">新居浜合同</text>
<text id="n2_43" class="nm" x="1135.71" y="1298.39" textLength="89.49" lengthAdjust="spacingAndGlyphs">（愛媛県）</text>
<text class="tn" x="1053.2" y="1287.8" textLength="14.7" lengthAdjust="spacingAndGlyphs">43</text>
<text id="n1_44" class="nm" x="1135.14" y="1336.68" textLength="58.00" lengthAdjust="spacingAndGlyphs"><tspan class="lt">HC</tspan>千曲</text>
<text id="n2_44" class="nm" x="1135.71" y="1356.18" textLength="89.49" lengthAdjust="spacingAndGlyphs">（長野県）</text>
<text class="tn" x="1053.2" y="1345.6" textLength="14.7" lengthAdjust="spacingAndGlyphs">44</text>
<text id="n1_45" class="nm" x="1134.70" y="1394.46" textLength="110.24" lengthAdjust="spacingAndGlyphs"><tspan class="lt">HC</tspan>山形ユース</text>
<text id="n2_45" class="nm" x="1135.71" y="1413.96" textLength="89.49" lengthAdjust="spacingAndGlyphs">（山形県）</text>
<text class="tn" x="1053.2" y="1403.4" textLength="14.7" lengthAdjust="spacingAndGlyphs">45</text>
<text id="n1_46" class="nm sm2" x="1135.80" y="1452.24" textLength="120.11" lengthAdjust="spacingAndGlyphs">サフィルヴァ札幌</text>
<text id="n2_46" class="nm" x="1135.71" y="1471.74" textLength="89.49" lengthAdjust="spacingAndGlyphs">（北海道）</text>
<text class="tn" x="1053.2" y="1461.1" textLength="14.7" lengthAdjust="spacingAndGlyphs">46</text>
<text id="n1_47" class="nm" x="1135.48" y="1510.03" textLength="45.68" lengthAdjust="spacingAndGlyphs">明　野</text>
<text id="n2_47" class="nm" x="1135.71" y="1529.53" textLength="89.49" lengthAdjust="spacingAndGlyphs">（大分県）</text>
<text class="tn" x="1053.2" y="1518.9" textLength="14.7" lengthAdjust="spacingAndGlyphs">47</text>
<text id="n1_48" class="nm" x="1135.66" y="1567.81" textLength="41.81" lengthAdjust="spacingAndGlyphs"><tspan class="lt">GHR</tspan></text>
<text id="n2_48" class="nm" x="1135.71" y="1587.31" textLength="89.49" lengthAdjust="spacingAndGlyphs">（群馬県）</text>
<text class="tn" x="1053.2" y="1576.7" textLength="14.7" lengthAdjust="spacingAndGlyphs">48</text>
<text class="mn" x="953.3" y="334.0" textLength="7.6" lengthAdjust="spacingAndGlyphs">9</text>
<text class="t1" x="1002.5" y="325.6" textLength="50.2" lengthAdjust="spacingAndGlyphs">13:00</text>
<text class="t2" x="1002.5" y="343.9">氷見</text>
<text class="mn" x="953.3" y="449.5" textLength="15.0" lengthAdjust="spacingAndGlyphs">10</text>
<text class="t1" x="1002.5" y="441.1" textLength="50.2" lengthAdjust="spacingAndGlyphs">13:00</text>
<text class="t2" x="1002.5" y="459.4">南部</text>
<text class="mn" x="953.3" y="680.7" textLength="15.0" lengthAdjust="spacingAndGlyphs">11</text>
<text class="t1" x="1002.5" y="672.3" textLength="50.2" lengthAdjust="spacingAndGlyphs">15:40</text>
<text class="t2" x="1002.5" y="690.6">ふA</text>
<text class="mn" x="953.3" y="796.2" textLength="15.0" lengthAdjust="spacingAndGlyphs">12</text>
<text class="t1" x="1002.5" y="787.8" textLength="50.2" lengthAdjust="spacingAndGlyphs">15:40</text>
<text class="t2" x="1002.5" y="806.1">ふB</text>
<text class="mn" x="953.3" y="1027.4" textLength="15.0" lengthAdjust="spacingAndGlyphs">13</text>
<text class="t1" x="1002.5" y="1019.0" textLength="50.2" lengthAdjust="spacingAndGlyphs">15:40</text>
<text class="t2" x="1002.5" y="1037.3">ふC</text>
<text class="mn" x="953.3" y="1142.9" textLength="15.0" lengthAdjust="spacingAndGlyphs">14</text>
<text class="t1" x="1002.5" y="1134.5" textLength="50.2" lengthAdjust="spacingAndGlyphs">17:00</text>
<text class="t2" x="1002.5" y="1152.8">ふA</text>
<text class="mn" x="953.3" y="1374.1" textLength="15.0" lengthAdjust="spacingAndGlyphs">15</text>
<text class="t1" x="1002.5" y="1365.7" textLength="50.2" lengthAdjust="spacingAndGlyphs">17:00</text>
<text class="t2" x="1002.5" y="1384.0">ふB</text>
<text class="mn" x="953.3" y="1489.6" textLength="15.0" lengthAdjust="spacingAndGlyphs">16</text>
<text class="t1" x="1002.5" y="1481.2" textLength="50.2" lengthAdjust="spacingAndGlyphs">17:00</text>
<text class="t2" x="1002.5" y="1499.5">ふC</text>
<text class="mn" x="886.8" y="285.8" textLength="15.0" lengthAdjust="spacingAndGlyphs">25</text>
<text class="t1" x="936.0" y="277.4" textLength="50.2" lengthAdjust="spacingAndGlyphs">13:00</text>
<text class="t2" x="936.0" y="295.7">氷見</text>
<text class="mn" x="886.8" y="497.7" textLength="15.0" lengthAdjust="spacingAndGlyphs">26</text>
<text class="t1" x="936.0" y="489.3" textLength="50.2" lengthAdjust="spacingAndGlyphs">13:00</text>
<text class="t2" x="936.0" y="507.6">南部</text>
<text class="mn" x="886.8" y="632.5" textLength="15.0" lengthAdjust="spacingAndGlyphs">27</text>
<text class="t1" x="936.0" y="624.1" textLength="50.2" lengthAdjust="spacingAndGlyphs">15:40</text>
<text class="t2" x="936.0" y="642.4">ふA</text>
<text class="mn" x="886.8" y="844.4" textLength="15.0" lengthAdjust="spacingAndGlyphs">28</text>
<text class="t1" x="936.0" y="836.0" textLength="50.2" lengthAdjust="spacingAndGlyphs">15:40</text>
<text class="t2" x="936.0" y="854.3">ふB</text>
<text class="mn" x="886.8" y="979.2" textLength="15.0" lengthAdjust="spacingAndGlyphs">29</text>
<text class="t1" x="936.0" y="970.8" textLength="50.2" lengthAdjust="spacingAndGlyphs">15:40</text>
<text class="t2" x="936.0" y="989.1">ふC</text>
<text class="mn" x="886.8" y="1191.1" textLength="15.0" lengthAdjust="spacingAndGlyphs">30</text>
<text class="t1" x="936.0" y="1182.7" textLength="50.2" lengthAdjust="spacingAndGlyphs">15:40</text>
<text class="t2" x="936.0" y="1201.0">氷見</text>
<text class="mn" x="886.8" y="1325.9" textLength="15.0" lengthAdjust="spacingAndGlyphs">31</text>
<text class="t1" x="936.0" y="1317.5" textLength="50.2" lengthAdjust="spacingAndGlyphs">17:00</text>
<text class="t2" x="936.0" y="1335.8">ふB</text>
<text class="mn" x="886.8" y="1537.8" textLength="15.0" lengthAdjust="spacingAndGlyphs">32</text>
<text class="t1" x="936.0" y="1529.4" textLength="50.2" lengthAdjust="spacingAndGlyphs">17:00</text>
<text class="t2" x="936.0" y="1547.7">ふC</text>
<text class="mn" x="820.4" y="401.4" textLength="15.0" lengthAdjust="spacingAndGlyphs">37</text>
<text class="t1" x="869.6" y="393.0" textLength="50.2" lengthAdjust="spacingAndGlyphs">13:00</text>
<text class="t2" x="869.6" y="411.3">ふA</text>
<text class="mn" x="820.4" y="728.8" textLength="15.0" lengthAdjust="spacingAndGlyphs">38</text>
<text class="t1" x="869.6" y="720.4" textLength="50.2" lengthAdjust="spacingAndGlyphs">13:00</text>
<text class="t2" x="869.6" y="738.7">ふB</text>
<text class="mn" x="820.4" y="1094.8" textLength="15.0" lengthAdjust="spacingAndGlyphs">39</text>
<text class="t1" x="869.6" y="1086.4" textLength="50.2" lengthAdjust="spacingAndGlyphs">13:00</text>
<text class="t2" x="869.6" y="1104.7">ふC</text>
<text class="mn" x="820.4" y="1422.2" textLength="15.0" lengthAdjust="spacingAndGlyphs">40</text>
<text class="t1" x="869.6" y="1413.8" textLength="50.2" lengthAdjust="spacingAndGlyphs">13:00</text>
<text class="t2" x="869.6" y="1432.1">氷見</text>
<text class="mn" x="753.8" y="574.7" textLength="15.0" lengthAdjust="spacingAndGlyphs">43</text>
<text class="t1" x="803.0" y="566.3" textLength="50.2" lengthAdjust="spacingAndGlyphs">17:00</text>
<text class="t2" x="803.0" y="584.6">ふC</text>
<text class="mn" x="753.8" y="1248.9" textLength="15.0" lengthAdjust="spacingAndGlyphs">44</text>
<text class="t1" x="803.0" y="1240.5" textLength="50.2" lengthAdjust="spacingAndGlyphs">17:00</text>
<text class="t2" x="803.0" y="1258.8">氷見</text>
<text class="mn" x="687.2" y="902.2" textLength="15.0" lengthAdjust="spacingAndGlyphs">46</text>
<text class="t1" x="736.4" y="893.8" textLength="50.2" lengthAdjust="spacingAndGlyphs">10:20</text>
<text class="t2" x="736.4" y="912.1">ふB</text>
<text class="fn" x="620.5" y="901.5">Final</text><text class="mn" x="621" y="930.0" textLength="15.0" lengthAdjust="spacingAndGlyphs">47</text><text class="t1" x="621.5" y="951" textLength="50.2" lengthAdjust="spacingAndGlyphs">13:50</text><text class="t2" x="621" y="970">ふA</text>
</svg>
</body></html>
